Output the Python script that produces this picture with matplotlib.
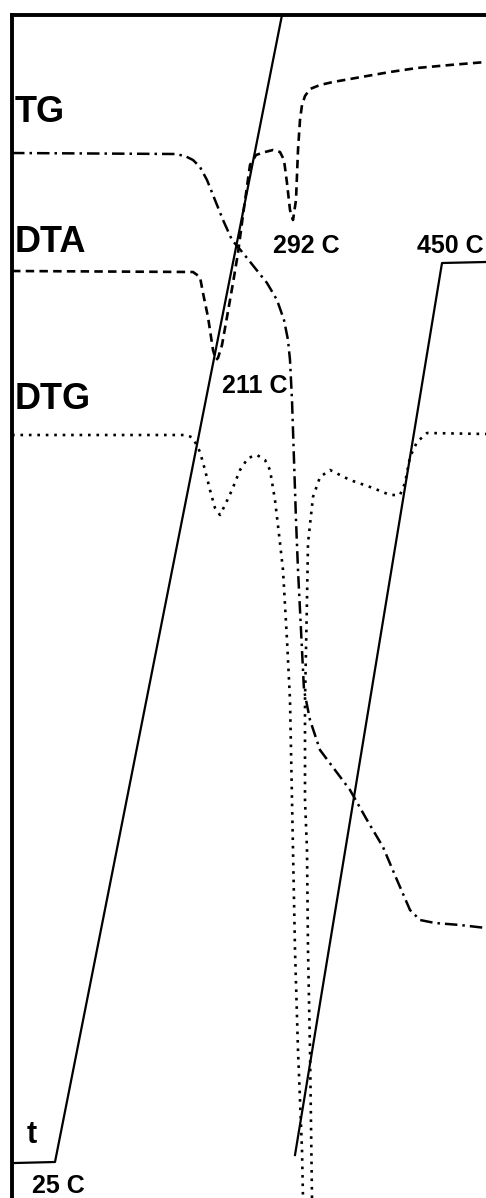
import matplotlib.pyplot as plt

# recorder chart coordinates (x = time, y = pen deflection, downwards)
tg_x = [12, 175, 185, 193, 200, 207, 215, 223, 232, 243, 255, 267, 277, 284, 288, 290,
        292, 294, 296, 298, 301, 304, 310, 320, 335, 350, 367, 383, 397, 410, 420, 435,
        460, 486]
tg_y = [153, 154, 156, 160, 167, 180, 200, 220, 240, 253, 268, 283, 300, 320, 340, 360,
        400, 460, 520, 570, 630, 690, 720, 750, 770, 790, 820, 847, 880, 910, 920, 923,
        925, 928]

dta_x = [12, 193, 200, 203, 208, 213, 216, 218, 222, 227, 233, 238, 243, 250, 256, 265,
         273, 280, 284, 287, 290, 293, 296, 298, 300, 302, 305, 310, 320, 333, 350, 367,
         390, 417, 450, 486]
dta_y = [271, 272, 277, 293, 317, 350, 360, 358, 345, 317, 283, 253, 215, 165, 155, 152,
         150, 152, 160, 183, 210, 220, 200, 150, 120, 105, 96, 89, 85, 82, 79, 76,
         72, 68, 65, 62]

dtg_x1 = [12, 187, 193, 200, 205, 210, 215, 220, 225, 232, 240, 248, 257, 265, 270, 275,
          280, 283, 287, 290, 292, 293, 295, 298, 302, 303]
dtg_y1 = [435, 435, 438, 452, 470, 490, 508, 515, 505, 490, 470, 458, 455, 460, 470, 500,
          543, 570, 640, 700, 800, 850, 950, 1050, 1150, 1198]
dtg_x2 = [312, 310, 308, 307, 305, 305, 307, 308, 313, 320, 330, 350, 373, 390, 400, 405,
          410, 417, 427, 486]
dtg_y2 = [1198, 1050, 950, 850, 800, 700, 600, 543, 497, 477, 470, 480, 488, 495, 495, 483,
          457, 442, 433, 434]

# temperature programme, pen wraps round once before reaching the 450 C plateau
t_x1 = [15, 55, 282]
t_y1 = [1163, 1162, 15]
t_x2 = [295, 442, 486]
t_y2 = [1155, 263, 262]

plt.rcParams['font.family'] = ['Liberation Sans', 'DejaVu Sans']

fig = plt.figure(figsize=(4.86, 11.98), dpi=100)
W, H = 486, 1198
x0, x1 = 12, 600
y0, y1 = 15, 1300
ax = fig.add_axes([x0 / W, 1 - y1 / H, (x1 - x0) / W, (y1 - y0) / H])
ax.set_xlim(x0, x1)
ax.set_ylim(y1, y0)

ax.plot(t_x1, t_y1, color='black', lw=1.6)
ax.plot(t_x2, t_y2, color='black', lw=1.6)
ax.plot(tg_x, tg_y, color='black', lw=1.8, linestyle=(0, (5, 2, 1, 2)))
ax.plot(dta_x, dta_y, color='black', lw=1.9, linestyle=(0, (3.2, 2)))
ax.plot(dtg_x1, dtg_y1, color='black', lw=1.9, linestyle=(0, (1, 2.2)))
ax.plot(dtg_x2, dtg_y2, color='black', lw=1.9, linestyle=(0, (1, 2.2)))

for s in ['right', 'bottom']:
    ax.spines[s].set_visible(False)
for s in ['left', 'top']:
    ax.spines[s].set_linewidth(2.8)
ax.set_xticks([])
ax.set_yticks([])

big = dict(fontsize=26, fontweight='bold', va='baseline', ha='left')
small = dict(fontsize=18, fontweight='bold', va='baseline', ha='left')
ax.text(15, 122, 'TG', **big)
ax.text(15, 252, 'DTA', **big)
ax.text(15, 409, 'DTG', **big)
ax.text(27, 1143, 't', fontsize=22, fontweight='bold', va='baseline', ha='left')
ax.text(273, 253, '292 C', **small)
ax.text(417, 253, '450 C', **small)
ax.text(222, 393, '211 C', **small)
ax.text(32, 1193, '25 C', **small)

fig.savefig('out.png', dpi=100)
